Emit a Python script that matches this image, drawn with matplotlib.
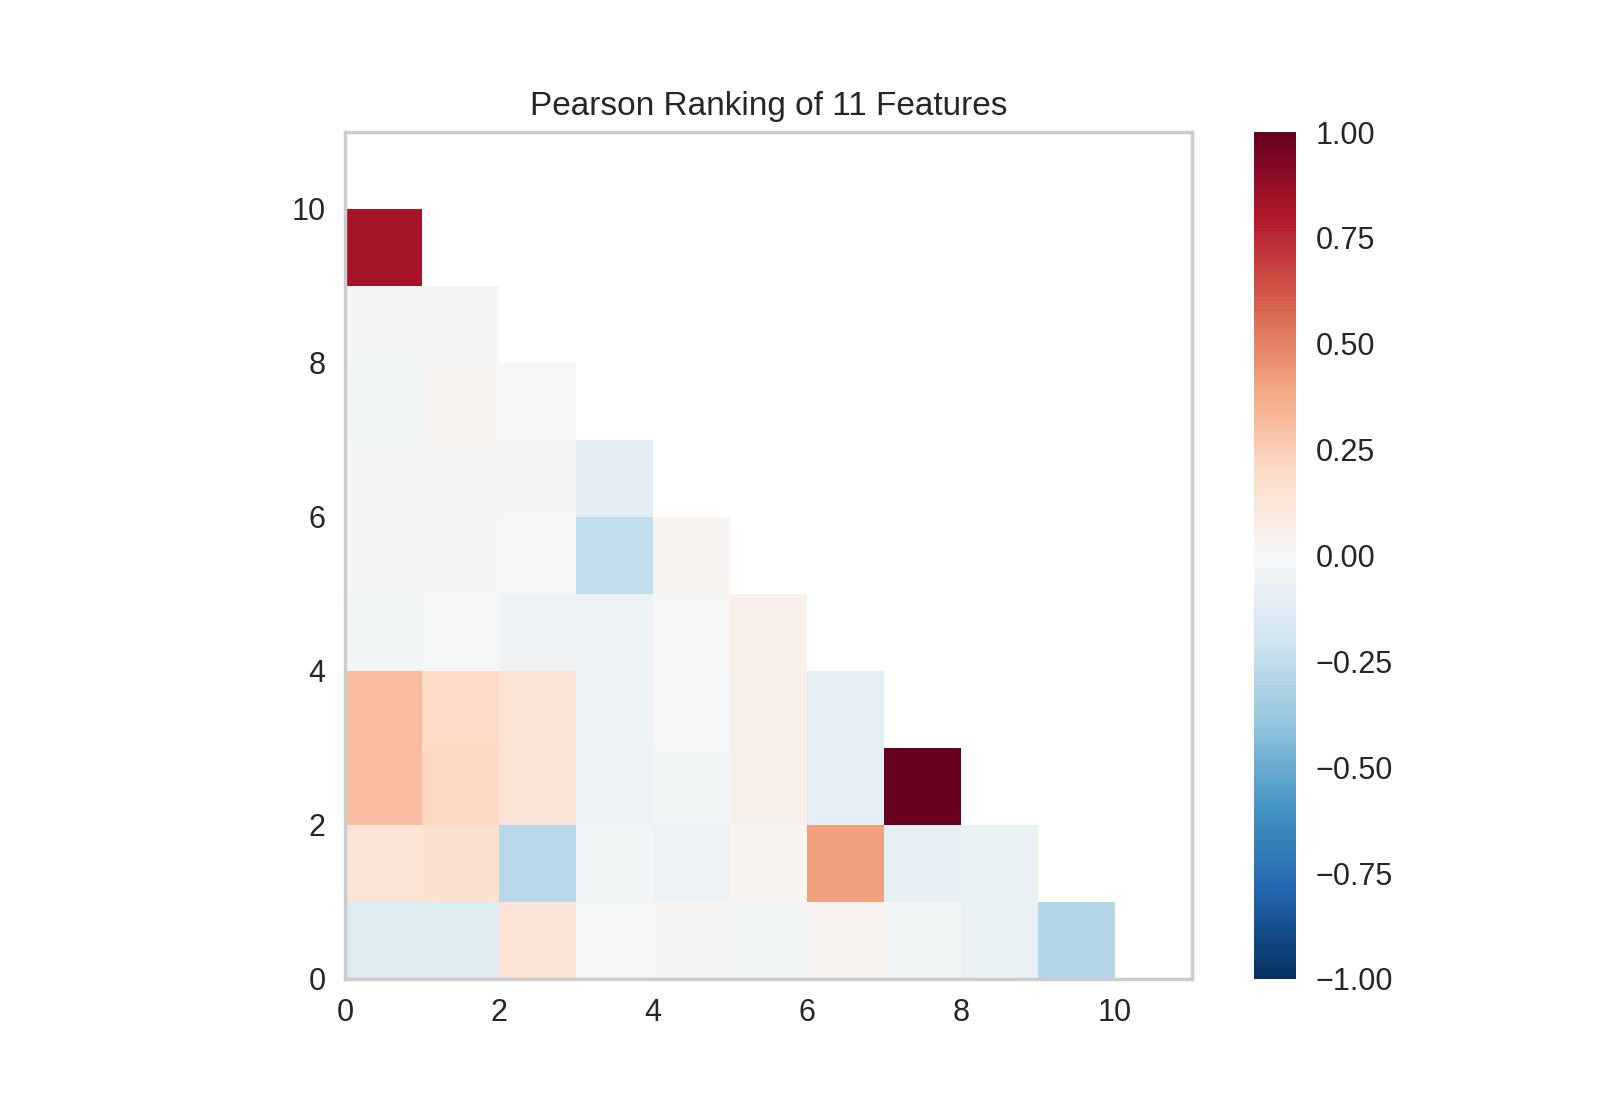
import numpy as np
import matplotlib
matplotlib.use("Agg")
import matplotlib.pyplot as plt

# Pearson correlation values, one list per row,
# listed from the bottom row (y 0-1) upwards; columns start at x = 0.
row_0 = [-0.14, -0.13, 0.14, -0.01, 0.01, -0.03, 0.03, -0.03, -0.07, -0.29]
row_1 = [0.14, 0.16, -0.28, -0.03, -0.06, 0.02, 0.41, -0.09, -0.07]
row_2 = [0.31, 0.21, 0.14, -0.05, -0.03, 0.05, -0.10, 1.00]
row_3 = [0.31, 0.20, 0.14, -0.05, -0.01, 0.05, -0.10]
row_4 = [-0.03, -0.01, -0.04, -0.05, 0.00, 0.05]
row_5 = [0.01, -0.02, -0.01, -0.25, 0.03]
row_6 = [-0.02, 0.01, -0.02, -0.105]
row_7 = [-0.03, 0.02, 0.00]
row_8 = [-0.02, -0.02]
row_9 = [0.83]
row_10 = []

rows = [row_0, row_1, row_2, row_3, row_4, row_5, row_6, row_7, row_8, row_9, row_10]
n_features = 11
title = "Pearson Ranking of 11 Features"

data = np.full((n_features, n_features), np.nan)
for i, r in enumerate(rows):
    for j, v in enumerate(r):
        data[i, j] = v
masked = np.ma.masked_invalid(data)

plt.rcParams['font.family'] = ['Liberation Sans', 'DejaVu Sans']
plt.rcParams['axes.edgecolor'] = '#cccccc'
plt.rcParams['axes.linewidth'] = 1.25
plt.rcParams['text.color'] = '#262626'
plt.rcParams['xtick.color'] = '#262626'
plt.rcParams['ytick.color'] = '#262626'

fig, ax = plt.subplots(figsize=(8, 5.5), dpi=200)
mesh = ax.pcolormesh(masked, cmap='RdBu_r', vmin=-1, vmax=1)
ax.set_xlim(0, n_features)
ax.set_ylim(0, n_features)
ax.set_aspect('equal')
ax.set_xticks([0, 2, 4, 6, 8, 10])
ax.set_yticks([0, 2, 4, 6, 8, 10])
ax.tick_params(length=0, labelsize=11, pad=7)
ax.set_title(title, fontsize=12)
cb = fig.colorbar(mesh, ax=ax)
cb.outline.set_visible(False)
cb.ax.tick_params(length=0, labelsize=11, pad=7)
cb.set_ticks([-1, -0.75, -0.5, -0.25, 0, 0.25, 0.5, 0.75, 1])
fig.savefig("out.png", dpi=200)
